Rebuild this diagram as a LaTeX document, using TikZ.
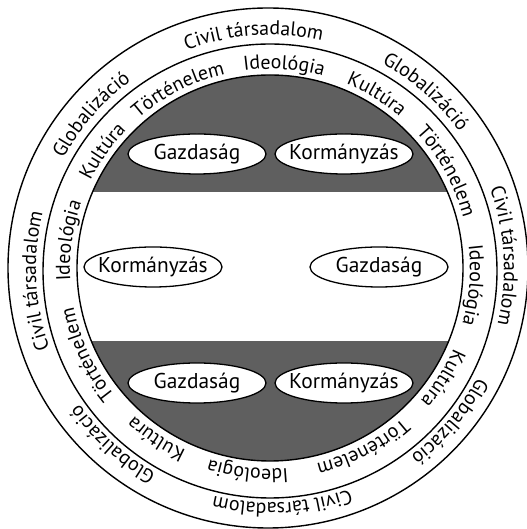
\documentclass[tikz,border=0pt]{standalone}
\usepackage{fontspec}
\setmainfont{PT Sans}
\usetikzlibrary{decorations.text,shapes.geometric,calc}
\definecolor{bandgrey}{RGB}{95,95,95}
\newcommand\ringfont{\fontsize{20}{24}\selectfont}
\newcommand\ovtext[1]{\makebox[0pt]{#1}}
\tikzset{
  x=1bp, y=1bp,
  ringline/.style={draw=black, line width=1.4bp},
  oval/.style={ellipse, draw=black, line width=1.3bp, fill=white,
    minimum width=138bp, minimum height=40bp, inner sep=0pt,
    font=\fontsize{21.5}{26}\selectfont},
}
% #1 radius, #2 centre angle, #3 text
\newcommand\ringtext[3]{%
  \path[decorate, decoration={text along path, text align=center,
      text={|\ringfont|#3}}]
    ($(TC)+(#2+80:#1)$) arc[start angle=#2+80, end angle=#2-80, radius=#1];
}
\begin{document}
\begin{tikzpicture}
\useasboundingbox (0,0) rectangle (527,529);
\coordinate (OC) at (268,261);
\coordinate (MC) at (270,258);
\coordinate (IC) at (270,261);
\coordinate (TC) at (270,260);
% bands
\begin{scope}
  \clip (IC) circle[radius=193];
  \fill[bandgrey] (0,337) rectangle (527,529);
  \fill[bandgrey] (0,0) rectangle (527,188);
\end{scope}
\draw[ringline] (OC) circle[radius=260];
\draw[ringline] (MC) circle[radius=227];
\draw[ringline] (IC) circle[radius=193];
% ovals
\node[oval] (g1) at (197,375) {\ovtext{Gazdaság}};
\node[oval] (k1) at (344,375) {\ovtext{Kormányzás}};
\node[oval] (k2) at (153,262) {\ovtext{Kormányzás}};
\node[oval] (g2) at (379,262) {\ovtext{Gazdaság}};
\node[oval] (g3) at (197,146) {\ovtext{Gazdaság}};
\node[oval] (k3) at (344,146) {\ovtext{Kormányzás}};
% inner ring
\ringtext{200}{86}{Ideológia}
\ringtext{200}{58.6}{Kultúra}
\ringtext{200}{29}{Történelem}
\ringtext{200}{-4.6}{Ideológia}
\ringtext{200}{-32.3}{Kultúra}
\ringtext{200}{-62.5}{Történelem}
\ringtext{200}{-96.3}{Ideológia}
\ringtext{200}{-123.8}{Kultúra}
\ringtext{200}{-155}{Történelem}
\ringtext{200}{172}{Ideológia}
\ringtext{200}{144.9}{Kultúra}
\ringtext{200}{117}{Történelem}
% outer ring
\ringtext{234}{94}{Civil társadalom}
\ringtext{234}{48.7}{Globalizáció}
\ringtext{234}{3.2}{Civil társadalom}
\ringtext{234}{-40.3}{Globalizáció}
\ringtext{234}{-87}{Civil társadalom}
\ringtext{234}{-131.9}{Globalizáció}
\ringtext{234}{182.9}{Civil társadalom}
\ringtext{234}{139.2}{Globalizáció}
\end{tikzpicture}
\end{document}
